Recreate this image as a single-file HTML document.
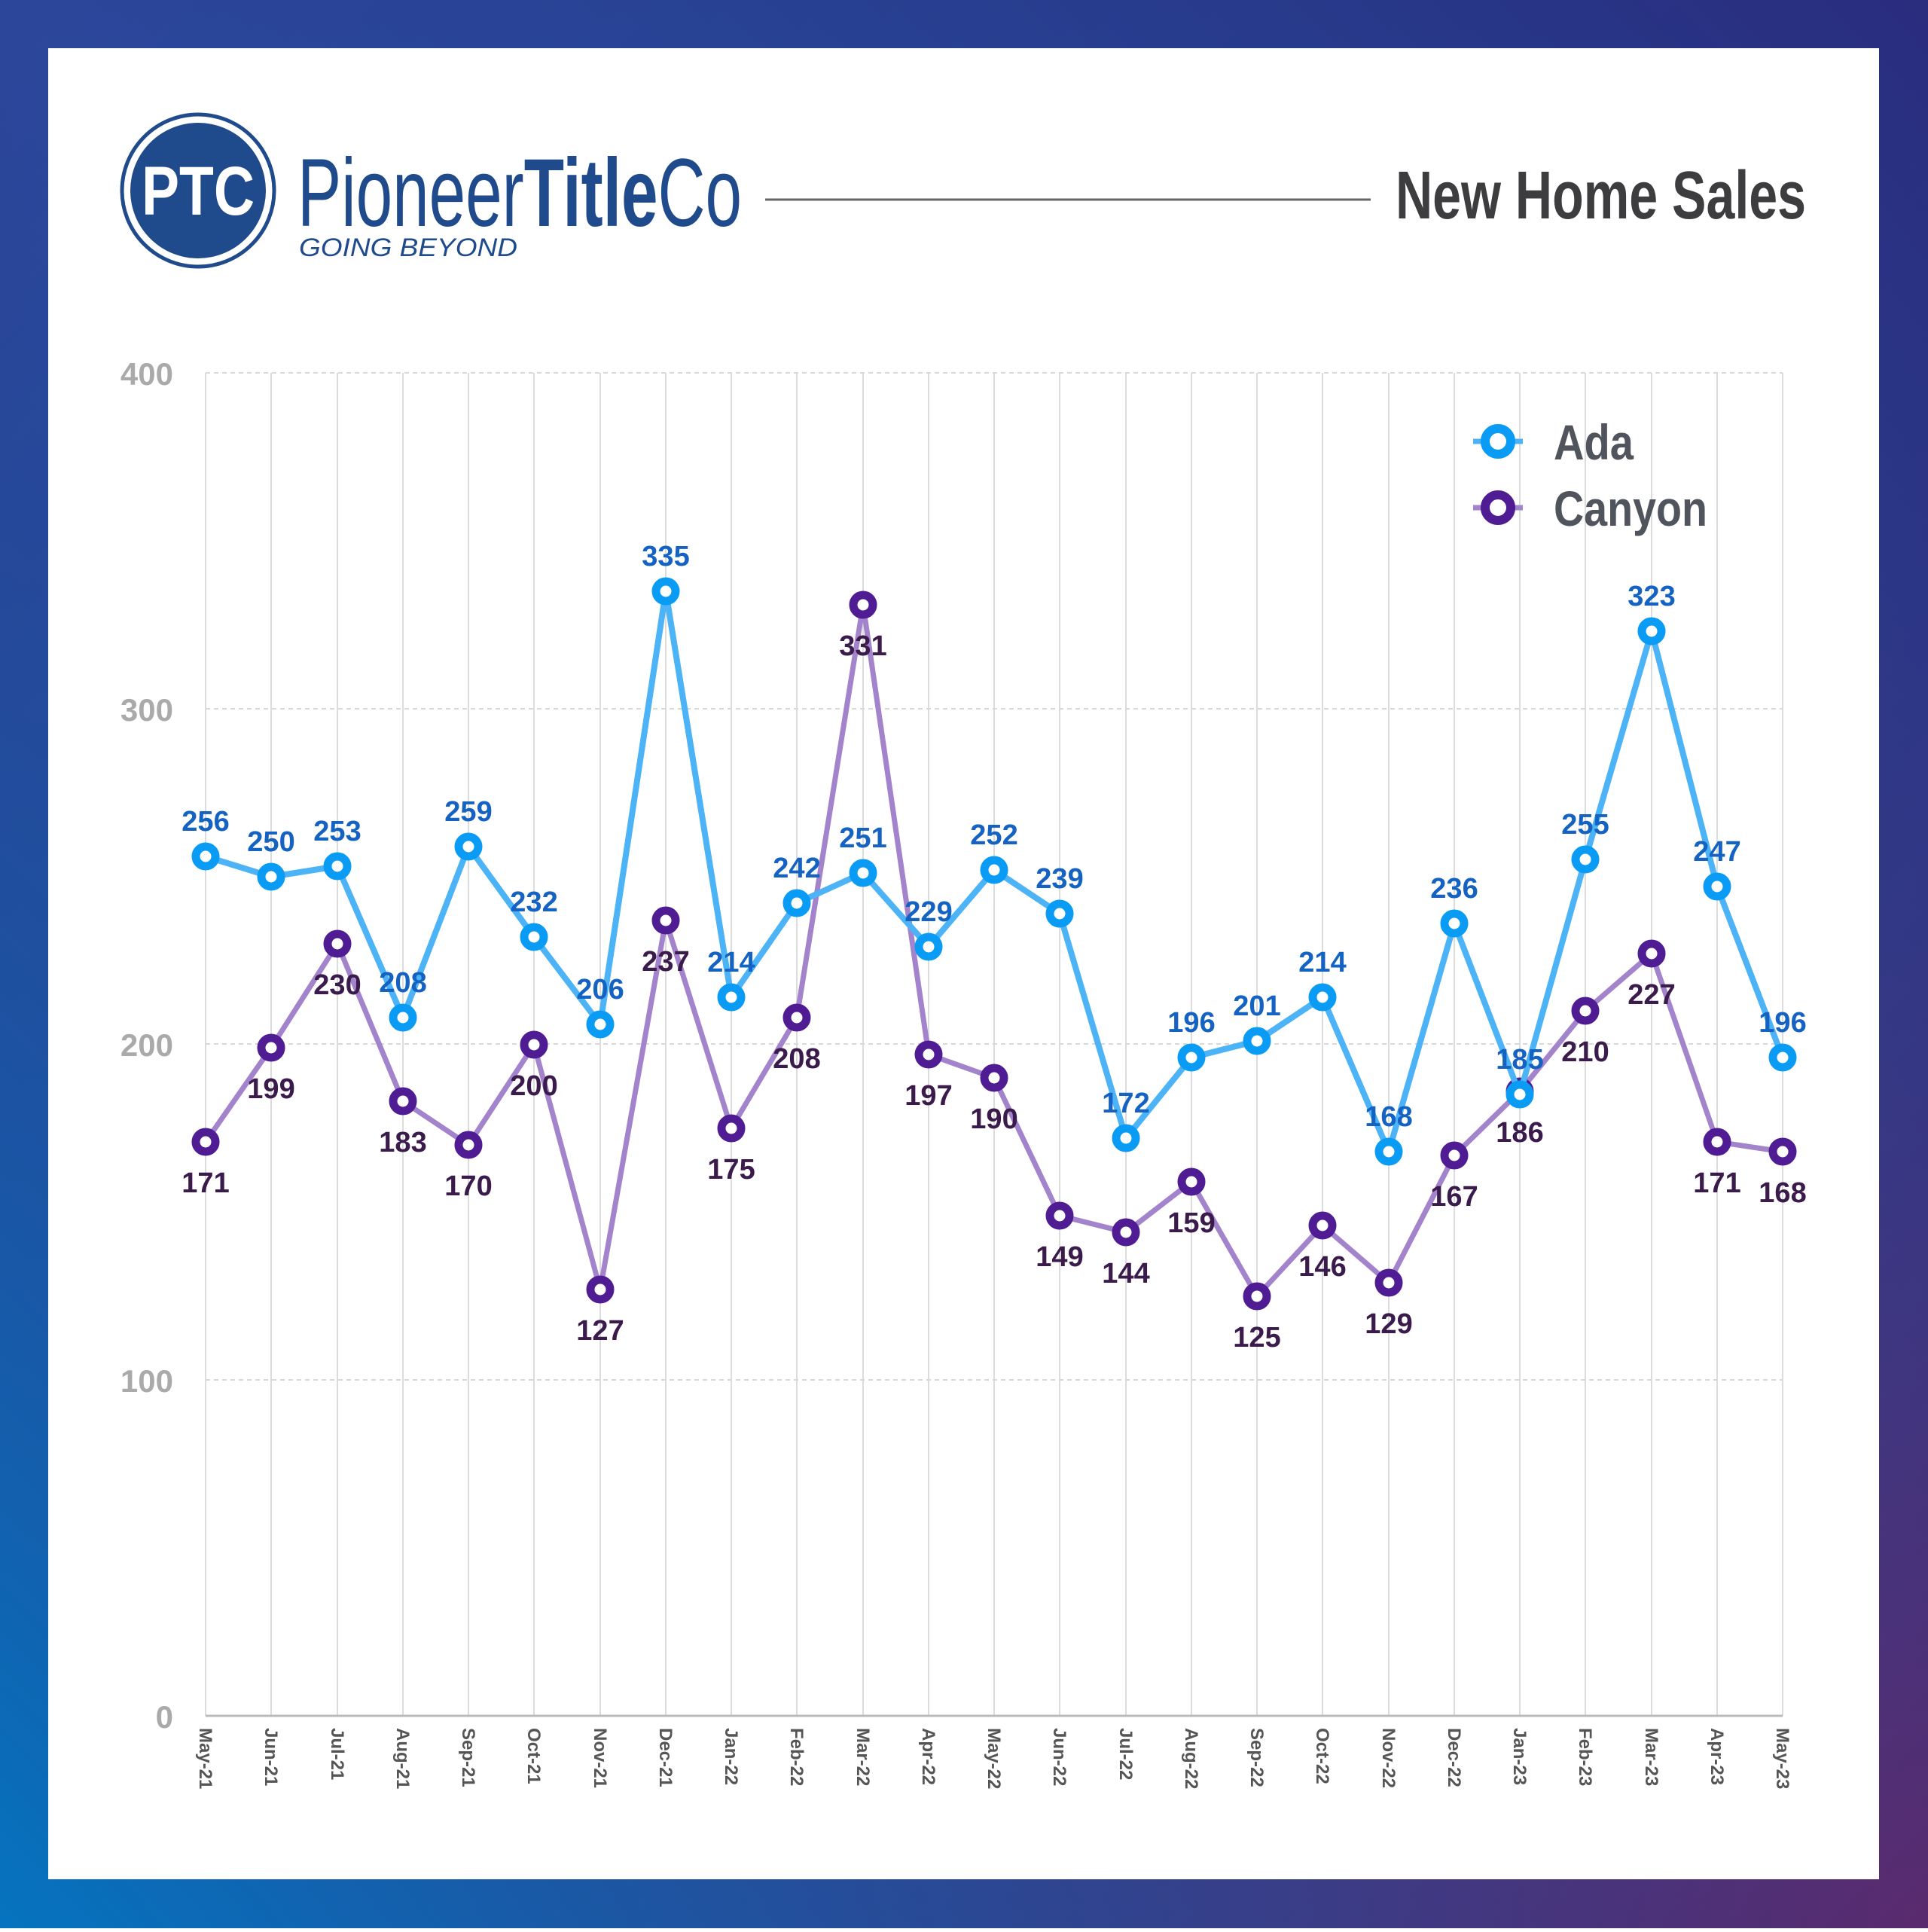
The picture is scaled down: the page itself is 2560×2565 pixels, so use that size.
<!DOCTYPE html>
<html><head><meta charset="utf-8"><style>
html,body{margin:0;padding:0}
body{width:2560px;height:2560px;overflow:hidden}
</style></head><body>
<svg width="2560" height="2560" viewBox="0 0 2560 2560" xmlns="http://www.w3.org/2000/svg">
<defs>
<linearGradient id="bg" x1="0" y1="0" x2="1" y2="1">
<stop offset="0" stop-color="#2c469a"/>
<stop offset="0.5" stop-color="#1f5aa8"/>
<stop offset="1" stop-color="#5a2a6e"/>
</linearGradient>
<linearGradient id="bg2" x1="1" y1="0" x2="0" y2="1">
<stop offset="0" stop-color="#2a2c7e" stop-opacity="1"/>
<stop offset="0.5" stop-color="#2a2c7e" stop-opacity="0"/>
<stop offset="1" stop-color="#0574c0" stop-opacity="1"/>
</linearGradient>
</defs>
<rect width="2560" height="2560" fill="url(#bg)"/>
<rect width="2560" height="2560" fill="url(#bg2)"/>
<rect x="64" y="64" width="2431" height="2431" fill="#fff"/>

<!-- logo -->
<circle cx="263" cy="253" r="101" fill="#fff" stroke="#1f4a8c" stroke-width="5"/>
<circle cx="263" cy="253" r="90" fill="#1f4a8c"/>
<text x="263" y="285" text-anchor="middle" font-family="Liberation Sans Narrow, Liberation Sans, sans-serif" font-weight="bold" font-size="92" fill="#fff" textLength="150" lengthAdjust="spacingAndGlyphs">PTC</text>
<text x="395" y="300" font-family="Liberation Sans Narrow, Liberation Sans, sans-serif" font-size="128" fill="#1f4a8c" textLength="590" lengthAdjust="spacingAndGlyphs">Pioneer<tspan font-weight="bold">Title</tspan>Co</text>
<text x="397" y="340" font-family="Liberation Sans Narrow, Liberation Sans, sans-serif" font-style="italic" font-size="34" fill="#1f4a8c" textLength="290" lengthAdjust="spacingAndGlyphs">GOING  BEYOND</text>
<line x1="1016" y1="265" x2="1820" y2="265" stroke="#666" stroke-width="3"/>
<text x="1853" y="290" font-family="Liberation Sans Narrow, Liberation Sans, sans-serif" font-weight="bold" font-size="90" fill="#3d3d3f" textLength="545" lengthAdjust="spacingAndGlyphs">New Home Sales</text>

<!-- grid -->
<g stroke="#dcdcdc" stroke-width="2">
<line x1="273" y1="495" x2="273" y2="2278"/><line x1="360" y1="495" x2="360" y2="2278"/><line x1="448" y1="495" x2="448" y2="2278"/><line x1="535" y1="495" x2="535" y2="2278"/><line x1="622" y1="495" x2="622" y2="2278"/><line x1="709" y1="495" x2="709" y2="2278"/><line x1="797" y1="495" x2="797" y2="2278"/><line x1="884" y1="495" x2="884" y2="2278"/><line x1="971" y1="495" x2="971" y2="2278"/><line x1="1058" y1="495" x2="1058" y2="2278"/><line x1="1146" y1="495" x2="1146" y2="2278"/><line x1="1233" y1="495" x2="1233" y2="2278"/><line x1="1320" y1="495" x2="1320" y2="2278"/><line x1="1407" y1="495" x2="1407" y2="2278"/><line x1="1495" y1="495" x2="1495" y2="2278"/><line x1="1582" y1="495" x2="1582" y2="2278"/><line x1="1669" y1="495" x2="1669" y2="2278"/><line x1="1756" y1="495" x2="1756" y2="2278"/><line x1="1844" y1="495" x2="1844" y2="2278"/><line x1="1931" y1="495" x2="1931" y2="2278"/><line x1="2018" y1="495" x2="2018" y2="2278"/><line x1="2105" y1="495" x2="2105" y2="2278"/><line x1="2193" y1="495" x2="2193" y2="2278"/><line x1="2280" y1="495" x2="2280" y2="2278"/><line x1="2367" y1="495" x2="2367" y2="2278"/>
</g>
<g stroke="#d8d8d8" stroke-width="2" stroke-dasharray="6,5">
<line x1="273" y1="495" x2="2367" y2="495"/><line x1="273" y1="941" x2="2367" y2="941"/><line x1="273" y1="1386" x2="2367" y2="1386"/><line x1="273" y1="1832" x2="2367" y2="1832"/>
</g>
<line x1="273" y1="2278" x2="2367" y2="2278" stroke="#bbb" stroke-width="3"/>
<g font-family="Liberation Sans Narrow, Liberation Sans, sans-serif" font-weight="bold" font-size="42" fill="#aaa" text-anchor="end">
<text x="230" y="511">400</text><text x="230" y="957">300</text><text x="230" y="1402">200</text><text x="230" y="1848">100</text><text x="230" y="2294">0</text>
</g>
<g font-family="Liberation Sans, sans-serif" font-weight="bold" font-size="24" fill="#555">
<text transform="translate(265,2294) rotate(90)">May-21</text><text transform="translate(352,2294) rotate(90)">Jun-21</text><text transform="translate(440,2294) rotate(90)">Jul-21</text><text transform="translate(527,2294) rotate(90)">Aug-21</text><text transform="translate(614,2294) rotate(90)">Sep-21</text><text transform="translate(701,2294) rotate(90)">Oct-21</text><text transform="translate(789,2294) rotate(90)">Nov-21</text><text transform="translate(876,2294) rotate(90)">Dec-21</text><text transform="translate(963,2294) rotate(90)">Jan-22</text><text transform="translate(1050,2294) rotate(90)">Feb-22</text><text transform="translate(1138,2294) rotate(90)">Mar-22</text><text transform="translate(1225,2294) rotate(90)">Apr-22</text><text transform="translate(1312,2294) rotate(90)">May-22</text><text transform="translate(1399,2294) rotate(90)">Jun-22</text><text transform="translate(1487,2294) rotate(90)">Jul-22</text><text transform="translate(1574,2294) rotate(90)">Aug-22</text><text transform="translate(1661,2294) rotate(90)">Sep-22</text><text transform="translate(1748,2294) rotate(90)">Oct-22</text><text transform="translate(1836,2294) rotate(90)">Nov-22</text><text transform="translate(1923,2294) rotate(90)">Dec-22</text><text transform="translate(2010,2294) rotate(90)">Jan-23</text><text transform="translate(2097,2294) rotate(90)">Feb-23</text><text transform="translate(2185,2294) rotate(90)">Mar-23</text><text transform="translate(2272,2294) rotate(90)">Apr-23</text><text transform="translate(2359,2294) rotate(90)">May-23</text>
</g>

<!-- Canyon -->
<polyline fill="none" stroke="#a283cc" stroke-width="7" stroke-linejoin="round" points="273,1516 360,1391 448,1253 535,1462 622,1520 709,1387 797,1712 884,1222 971,1498 1058,1351 1146,803 1233,1400 1320,1431 1407,1614 1495,1636 1582,1569 1669,1721 1756,1627 1844,1703 1931,1534 2018,1449 2105,1342 2193,1266 2280,1516 2367,1529"/>
<g fill="#fff" stroke="#4f1c94" stroke-width="11">
<circle cx="273" cy="1516" r="13"/><circle cx="360" cy="1391" r="13"/><circle cx="448" cy="1253" r="13"/><circle cx="535" cy="1462" r="13"/><circle cx="622" cy="1520" r="13"/><circle cx="709" cy="1387" r="13"/><circle cx="797" cy="1712" r="13"/><circle cx="884" cy="1222" r="13"/><circle cx="971" cy="1498" r="13"/><circle cx="1058" cy="1351" r="13"/><circle cx="1146" cy="803" r="13"/><circle cx="1233" cy="1400" r="13"/><circle cx="1320" cy="1431" r="13"/><circle cx="1407" cy="1614" r="13"/><circle cx="1495" cy="1636" r="13"/><circle cx="1582" cy="1569" r="13"/><circle cx="1669" cy="1721" r="13"/><circle cx="1756" cy="1627" r="13"/><circle cx="1844" cy="1703" r="13"/><circle cx="1931" cy="1534" r="13"/><circle cx="2018" cy="1449" r="13"/><circle cx="2105" cy="1342" r="13"/><circle cx="2193" cy="1266" r="13"/><circle cx="2280" cy="1516" r="13"/><circle cx="2367" cy="1529" r="13"/>
</g>

<!-- Ada -->
<polyline fill="none" stroke="#4db3f7" stroke-width="8" stroke-linejoin="round" points="273,1137 360,1164 448,1150 535,1351 622,1124 709,1244 797,1360 884,785 971,1324 1058,1199 1146,1159 1233,1257 1320,1155 1407,1213 1495,1511 1582,1404 1669,1382 1756,1324 1844,1529 1931,1226 2018,1453 2105,1141 2193,838 2280,1177 2367,1404"/>
<g fill="#fff" stroke="#0a9cf5" stroke-width="11">
<circle cx="273" cy="1137" r="13"/><circle cx="360" cy="1164" r="13"/><circle cx="448" cy="1150" r="13"/><circle cx="535" cy="1351" r="13"/><circle cx="622" cy="1124" r="13"/><circle cx="709" cy="1244" r="13"/><circle cx="797" cy="1360" r="13"/><circle cx="884" cy="785" r="13"/><circle cx="971" cy="1324" r="13"/><circle cx="1058" cy="1199" r="13"/><circle cx="1146" cy="1159" r="13"/><circle cx="1233" cy="1257" r="13"/><circle cx="1320" cy="1155" r="13"/><circle cx="1407" cy="1213" r="13"/><circle cx="1495" cy="1511" r="13"/><circle cx="1582" cy="1404" r="13"/><circle cx="1669" cy="1382" r="13"/><circle cx="1756" cy="1324" r="13"/><circle cx="1844" cy="1529" r="13"/><circle cx="1931" cy="1226" r="13"/><circle cx="2018" cy="1453" r="13"/><circle cx="2105" cy="1141" r="13"/><circle cx="2193" cy="838" r="13"/><circle cx="2280" cy="1177" r="13"/><circle cx="2367" cy="1404" r="13"/>
</g>

<g font-family="Liberation Sans Narrow, Liberation Sans, sans-serif" font-weight="bold" font-size="38" fill="#3b1a4c" text-anchor="middle">
<text x="273" y="1583">171</text><text x="360" y="1458">199</text><text x="448" y="1320">230</text><text x="535" y="1529">183</text><text x="622" y="1587">170</text><text x="709" y="1454">200</text><text x="797" y="1779">127</text><text x="884" y="1289">237</text><text x="971" y="1565">175</text><text x="1058" y="1418">208</text><text x="1146" y="870">331</text><text x="1233" y="1467">197</text><text x="1320" y="1498">190</text><text x="1407" y="1681">149</text><text x="1495" y="1703">144</text><text x="1582" y="1636">159</text><text x="1669" y="1788">125</text><text x="1756" y="1694">146</text><text x="1844" y="1770">129</text><text x="1931" y="1601">167</text><text x="2018" y="1516">186</text><text x="2105" y="1409">210</text><text x="2193" y="1333">227</text><text x="2280" y="1583">171</text><text x="2367" y="1596">168</text>
</g>
<g font-family="Liberation Sans Narrow, Liberation Sans, sans-serif" font-weight="bold" font-size="38" fill="#1462c2" text-anchor="middle">
<text x="273" y="1103">256</text><text x="360" y="1130">250</text><text x="448" y="1116">253</text><text x="535" y="1317">208</text><text x="622" y="1090">259</text><text x="709" y="1210">232</text><text x="797" y="1326">206</text><text x="884" y="751">335</text><text x="971" y="1290">214</text><text x="1058" y="1165">242</text><text x="1146" y="1125">251</text><text x="1233" y="1223">229</text><text x="1320" y="1121">252</text><text x="1407" y="1179">239</text><text x="1495" y="1477">172</text><text x="1582" y="1370">196</text><text x="1669" y="1348">201</text><text x="1756" y="1290">214</text><text x="1844" y="1495">168</text><text x="1931" y="1192">236</text><text x="2018" y="1419">185</text><text x="2105" y="1107">255</text><text x="2193" y="804">323</text><text x="2280" y="1143">247</text><text x="2367" y="1370">196</text>
</g>

<!-- legend -->
<line x1="1956" y1="586" x2="2022" y2="586" stroke="#4db3f7" stroke-width="7"/>
<circle cx="1989" cy="586" r="17" fill="#fff" stroke="#0a9cf5" stroke-width="12"/>
<line x1="1956" y1="674" x2="2022" y2="674" stroke="#a283cc" stroke-width="7"/>
<circle cx="1989" cy="674" r="17" fill="#fff" stroke="#4f1c94" stroke-width="12"/>
<g font-family="Liberation Sans Narrow, Liberation Sans, sans-serif" font-weight="bold" font-size="66" fill="#50545c">
<text x="2063" y="610" textLength="106" lengthAdjust="spacingAndGlyphs">Ada</text><text x="2063" y="698" textLength="204" lengthAdjust="spacingAndGlyphs">Canyon</text>
</g>
</svg>
</body></html>
